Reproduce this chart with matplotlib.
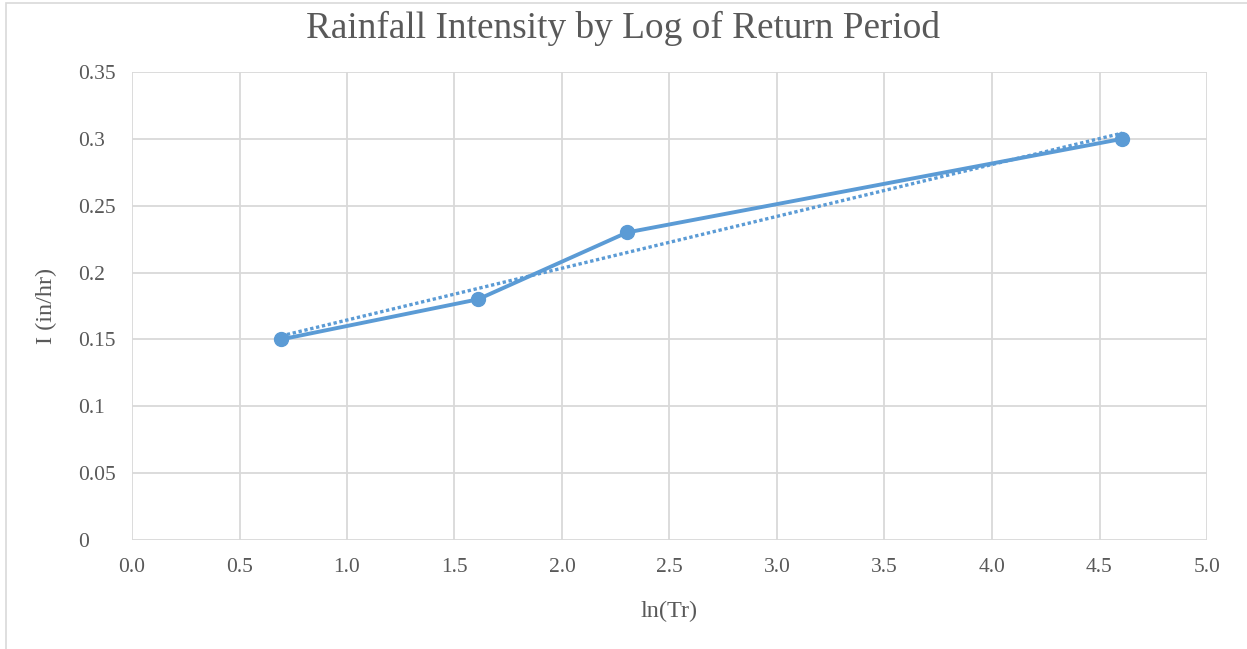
import numpy as np
import matplotlib
matplotlib.use("Agg")
import matplotlib.pyplot as plt
from matplotlib.patches import Rectangle

# Return periods (years) and their rainfall intensities
return_period = [2, 5, 10, 100]
intensity = [0.15, 0.18, 0.23, 0.30]
ln_tr = np.log(return_period)

x_ticks = [0.0, 0.5, 1.0, 1.5, 2.0, 2.5, 3.0, 3.5, 4.0, 4.5, 5.0]
y_ticks = [0, 0.05, 0.1, 0.15, 0.2, 0.25, 0.3, 0.35]
y_tick_labels = ["0", "0.05", "0.1", "0.15", "0.2", "0.25", "0.3", "0.35"]

plt.rcParams["font.family"] = ["Liberation Serif", "DejaVu Serif"]
BLUE = "#5B9BD5"
TEXT = "#595959"
GRID = "#D9D9D9"

W, H = 1247, 649
fig = plt.figure(figsize=(W / 100, H / 100), dpi=100)
ax = fig.add_axes([132 / W, 1 - 540 / H, (1207 - 132) / W, (540 - 72) / H])

# chart outline
fig.patches.append(Rectangle((6 / W, -0.1), 1.2, 1 - 2.5 / H + 0.1,
                             transform=fig.transFigure, fill=False,
                             edgecolor="#D9D9D9", linewidth=1.2, zorder=0))

# linear trendline
slope, intercept = np.polyfit(ln_tr, intensity, 1)
tx = np.array([ln_tr[0], ln_tr[-1]])
ax.plot(tx, slope * tx + intercept, color=BLUE, linewidth=2.4,
        linestyle=(0, (1, 0.8)), zorder=3)

ax.plot(ln_tr, intensity, color=BLUE, linewidth=2.8, marker="o",
        markersize=10, zorder=4)

ax.set_xlim(0, 5)
ax.set_ylim(0, 0.35)
ax.set_xticks(x_ticks)
ax.set_xticklabels([f"{v:.1f}" for v in x_ticks])
ax.set_yticks(y_ticks)
ax.set_yticklabels(y_tick_labels)
ax.grid(True, color=GRID, linewidth=1.3)
ax.set_axisbelow(True)
for s in ax.spines.values():
    s.set_visible(False)
ax.tick_params(length=0, labelsize=15.5, labelcolor=TEXT)
ax.tick_params(axis="x", pad=13)
ax.tick_params(axis="y", pad=(132 - 78) * 0.72)
for lab in ax.get_yticklabels():
    lab.set_horizontalalignment("left")

ax.set_xlabel("ln(Tr)", fontsize=17.5, color=TEXT, labelpad=17)
ax.set_ylabel("I (in/hr)", fontsize=17.5, color=TEXT, labelpad=15)
fig.text(0.5, 1 - 28 / H, "Rainfall Intensity by Log of Return Period",
         ha="center", va="center", fontsize=26.8, color=TEXT)

fig.savefig("out.png", dpi=100)
